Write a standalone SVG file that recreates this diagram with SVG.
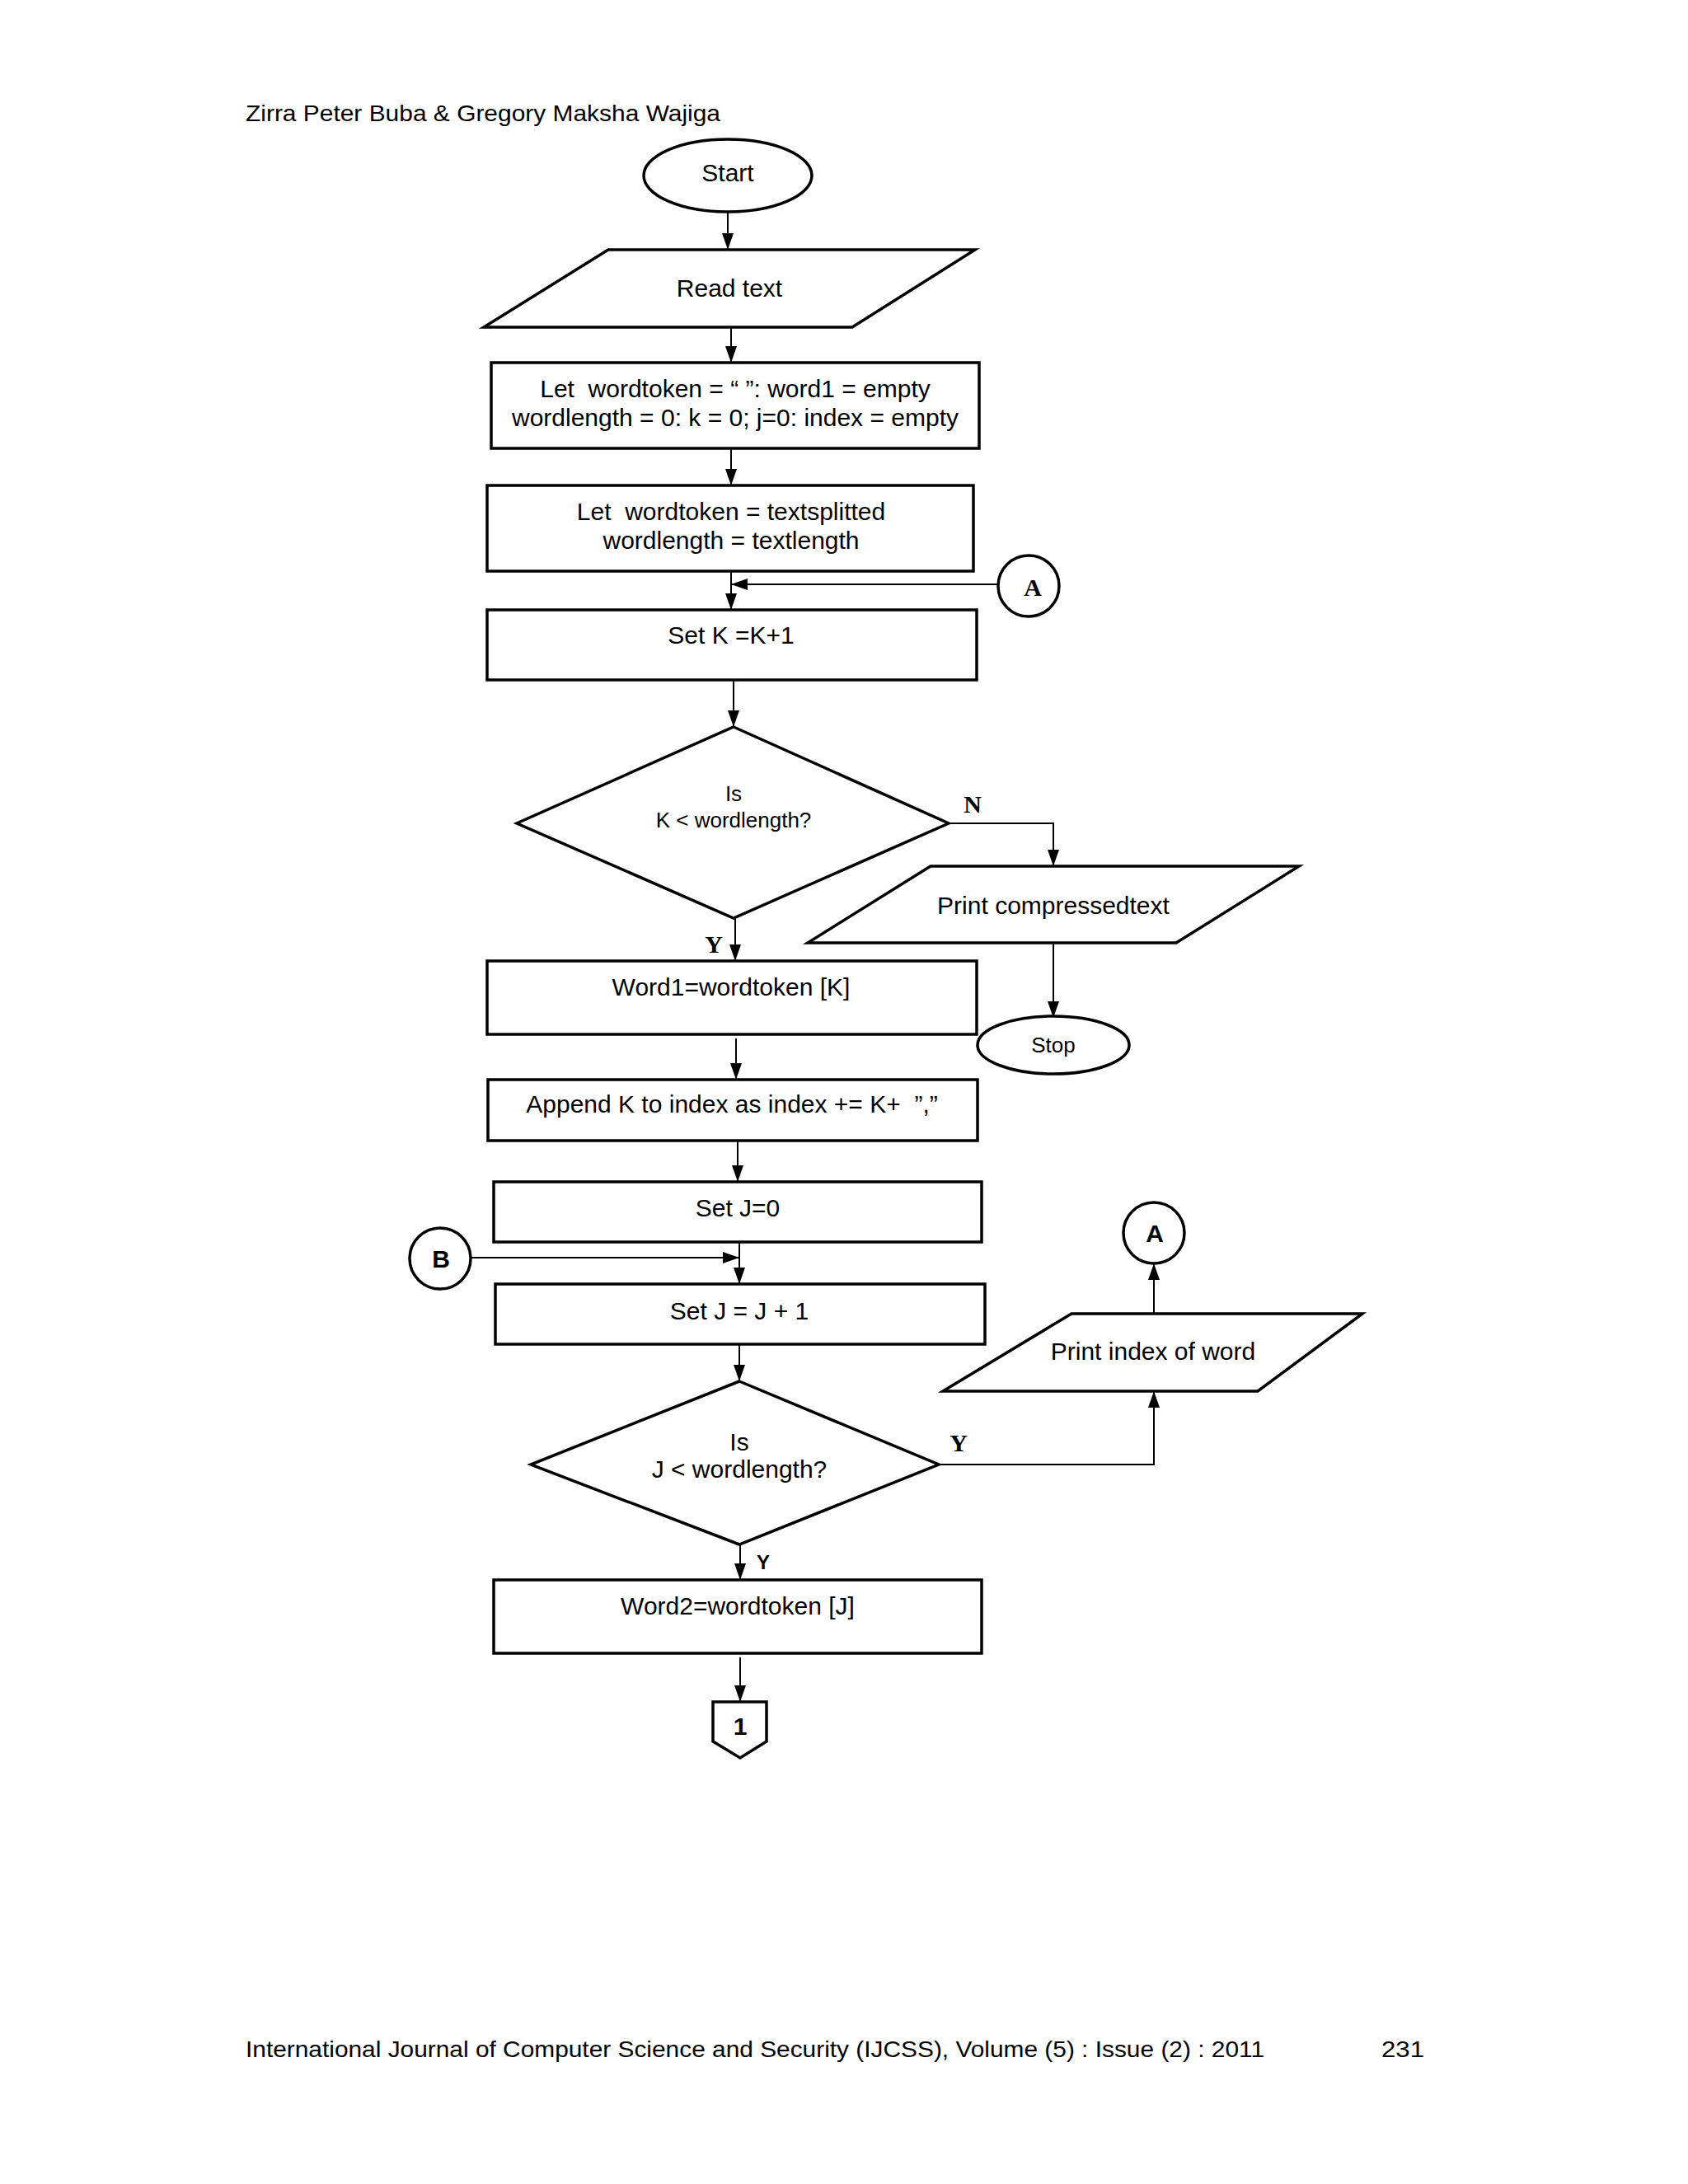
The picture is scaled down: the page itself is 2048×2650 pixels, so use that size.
<svg xmlns="http://www.w3.org/2000/svg" width="2048" height="2650" viewBox="0 0 2048 2650">
<style>
.shape{fill:#fff;stroke:#000;stroke-width:3.5}
.conn{fill:none;stroke:#000;stroke-width:2}
.t{font-family:"Liberation Sans",Arial,sans-serif;font-size:30px;fill:#000;text-anchor:middle}
.s{font-family:"Liberation Sans",Arial,sans-serif;font-size:26px;fill:#000;text-anchor:middle}
.lb{font-family:"Liberation Serif","Times New Roman",serif;font-weight:bold;font-size:30px;fill:#000;text-anchor:middle}
.lbs{font-family:"Liberation Sans",Arial,sans-serif;font-weight:bold;font-size:30px;fill:#000;text-anchor:middle}
.page{font-family:"Liberation Sans",Arial,sans-serif;font-size:28px;fill:#000}
</style>
<defs>
<marker id="ah" markerUnits="userSpaceOnUse" markerWidth="20" markerHeight="14" refX="20" refY="7" orient="auto">
<path d="M0,0 L20,7 L0,14 z" fill="#000"/>
</marker>
</defs>
<rect width="2048" height="2650" fill="#fff"/>
<text class="page" x="298" y="147" textLength="576" lengthAdjust="spacingAndGlyphs">Zirra Peter Buba &amp; Gregory Maksha Wajiga</text>
<text class="page" x="298" y="2496" textLength="1236" lengthAdjust="spacingAndGlyphs">International Journal of Computer Science and Security (IJCSS), Volume (5) : Issue (2) : 2011</text>
<text class="page" x="1676" y="2496" textLength="52" lengthAdjust="spacingAndGlyphs">231</text>

<g id="connectors">
<line class="conn" x1="883" y1="258" x2="883" y2="303" marker-end="url(#ah)"/>
<line class="conn" x1="887" y1="397" x2="887" y2="440" marker-end="url(#ah)"/>
<line class="conn" x1="887" y1="544" x2="887" y2="589" marker-end="url(#ah)"/>
<line class="conn" x1="887" y1="693" x2="887" y2="740" marker-end="url(#ah)"/>
<line class="conn" x1="1211" y1="709" x2="887" y2="709" marker-end="url(#ah)"/>
<line class="conn" x1="890" y1="825" x2="890" y2="882" marker-end="url(#ah)"/>
<polyline class="conn" points="1151,999 1278,999 1278,1051" marker-end="url(#ah)"/>
<line class="conn" x1="1278" y1="1144" x2="1278" y2="1235" marker-end="url(#ah)"/>
<line class="conn" x1="892" y1="1114" x2="892" y2="1166" marker-end="url(#ah)"/>
<line class="conn" x1="893" y1="1260" x2="893" y2="1310" marker-end="url(#ah)"/>
<line class="conn" x1="895" y1="1384" x2="895" y2="1434" marker-end="url(#ah)"/>
<line class="conn" x1="897" y1="1507" x2="897" y2="1558" marker-end="url(#ah)"/>
<line class="conn" x1="571" y1="1526" x2="897" y2="1526" marker-end="url(#ah)"/>
<line class="conn" x1="897" y1="1631" x2="897" y2="1676" marker-end="url(#ah)"/>
<polyline class="conn" points="1139,1777 1400,1777 1400,1688" marker-end="url(#ah)"/>
<line class="conn" x1="1400" y1="1594" x2="1400" y2="1533" marker-end="url(#ah)"/>
<line class="conn" x1="898" y1="1874" x2="898" y2="1917" marker-end="url(#ah)"/>
<line class="conn" x1="898" y1="2011" x2="898" y2="2065" marker-end="url(#ah)"/>
<text class="lb" x="1180" y="986">N</text>
<text class="lb" x="866" y="1156">Y</text>
<text class="lb" x="1163" y="1761">Y</text>
<text class="lbs" x="926" y="1904" style="font-size:24px">Y</text>
</g>

<g id="start">
<ellipse class="shape" cx="883" cy="213" rx="102" ry="44"/>
<text class="t" x="883" y="220">Start</text>
</g>
<g id="read-text">
<polygon class="shape" points="738,303 1183,303 1034,397 587,397"/>
<text class="t" x="885" y="360">Read text</text>
</g>
<g id="init">
<rect class="shape" x="596" y="440" width="592" height="104"/>
<text class="t" x="892" y="482">Let&#160; wordtoken = “ ”: word1 = empty</text>
<text class="t" x="892" y="517">wordlength = 0: k = 0; j=0: index = empty</text>
</g>
<g id="split">
<rect class="shape" x="591" y="589" width="590" height="104"/>
<text class="t" x="887" y="631">Let&#160; wordtoken = textsplitted</text>
<text class="t" x="887" y="666">wordlength = textlength</text>
</g>
<g id="conn-a-top">
<circle class="shape" cx="1248" cy="711" r="37"/>
<text class="lb" x="1253" y="723">A</text>
</g>
<g id="set-k">
<rect class="shape" x="591" y="740" width="594" height="85"/>
<text class="t" x="887" y="781">Set K =K+1</text>
</g>
<g id="decision-k">
<polygon class="shape" points="890,882 1151,999 890,1114 627,999"/>
<text class="s" x="890" y="972">Is</text>
<text class="s" x="890" y="1004">K &lt; wordlength?</text>
</g>
<g id="print-compressed">
<polygon class="shape" points="1129,1051 1576,1051 1427,1144 980,1144"/>
<text class="t" x="1278" y="1109">Print compressedtext</text>
</g>
<g id="stop">
<ellipse class="shape" cx="1278" cy="1268" rx="92" ry="35"/>
<text class="s" x="1278" y="1277">Stop</text>
</g>
<g id="word1">
<rect class="shape" x="591" y="1166" width="594" height="89"/>
<text class="t" x="887" y="1208">Word1=wordtoken [K]</text>
</g>
<g id="append">
<rect class="shape" x="592" y="1310" width="594" height="74"/>
<text class="t" x="888" y="1350">Append K to index as index += K+&#160; ”,”</text>
</g>
<g id="set-j0">
<rect class="shape" x="599" y="1434" width="592" height="73"/>
<text class="t" x="895" y="1476">Set J=0</text>
</g>
<g id="conn-b">
<circle class="shape" cx="534" cy="1527" r="37"/>
<text class="lbs" x="535" y="1538">B</text>
</g>
<g id="set-j">
<rect class="shape" x="601" y="1558" width="594" height="73"/>
<text class="t" x="897" y="1601">Set J = J + 1</text>
</g>
<g id="decision-j">
<polygon class="shape" points="897,1676 1139,1777 897,1874 644,1777"/>
<text class="t" x="897" y="1760">Is</text>
<text class="t" x="897" y="1793">J &lt; wordlength?</text>
</g>
<g id="print-index">
<polygon class="shape" points="1300,1594 1653,1594 1526,1688 1144,1688"/>
<text class="t" x="1399" y="1650">Print index of word</text>
</g>
<g id="conn-a-bottom">
<circle class="shape" cx="1400" cy="1496" r="37"/>
<text class="lbs" x="1401" y="1507">A</text>
</g>
<g id="word2">
<rect class="shape" x="599" y="1917" width="592" height="89"/>
<text class="t" x="895" y="1959">Word2=wordtoken [J]</text>
</g>
<g id="offpage-1">
<polygon class="shape" points="865,2065 930,2065 930,2113 898,2133 865,2113"/>
<text class="lbs" x="898" y="2105">1</text>
</g>
</svg>
